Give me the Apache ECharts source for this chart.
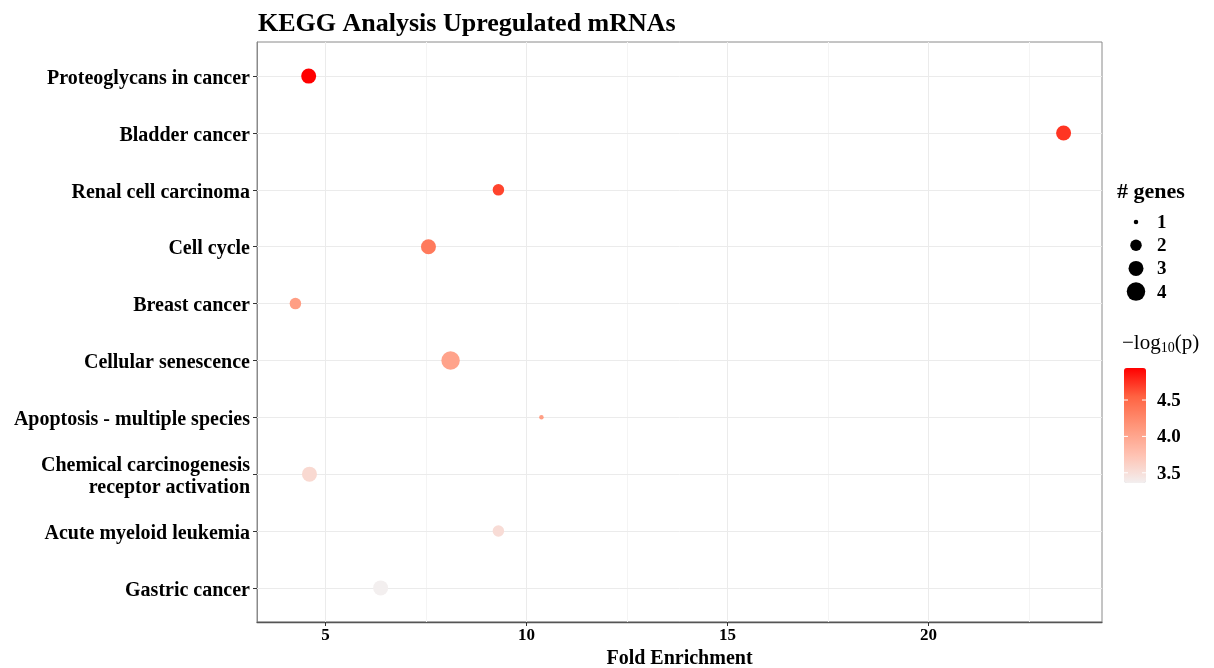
<!DOCTYPE html>
<html>
<head>
<meta charset="utf-8">
<script src="https://cdn.jsdelivr.net/npm/echarts@6/dist/echarts.min.js"></script>
<style>
  html, body { margin: 0; padding: 0; background: #fff; }
  #chart { width: 1214px; height: 668px; }
</style>
</head>
<body>
<div id="chart"></div>
<script>
// KEGG pathways, listed top to bottom
const pathways = [
  'Proteoglycans in cancer',
  'Bladder cancer',
  'Renal cell carcinoma',
  'Cell cycle',
  'Breast cancer',
  'Cellular senescence',
  'Apoptosis - multiple species',
  'Chemical carcinogenesis\nreceptor activation',
  'Acute myeloid leukemia',
  'Gastric cancer'
];
const foldEnrichment = [4.58, 23.36, 9.30, 7.56, 4.25, 8.11, 10.37, 4.60, 9.30, 6.37];
const negLog10P      = [4.94, 4.73, 4.67, 4.36, 4.07, 4.02, 4.07, 3.55, 3.52, 3.36];
const geneCounts     = [3, 3, 2, 3, 2, 4, 1, 3, 2, 3];

const xMajorBreaks = [5, 10, 15, 20];
const xMinorBreaks = [7.5, 12.5, 17.5, 22.5];
const sizeBreaks = [1, 2, 3, 4];
const colorBreaks = [3.5, 4.0, 4.5];

const FONT = '"Liberation Serif", "Times New Roman", serif';
const n = pathways.length;

// point diameter for a gene count
function dotSize(k) {
  const d = { 1: 4.5, 2: 11.5, 3: 15, 4: 18.5 };
  return d[k];
}

// padded data ranges
const xMinData = Math.min(...foldEnrichment), xMaxData = Math.max(...foldEnrichment);
const xPad = (xMaxData - xMinData) * 0.05;
const xMin = xMinData - xPad, xMax = xMaxData + xPad;
const pMin = Math.min(...negLog10P), pMax = Math.max(...negLog10P);
const yIndex = pathways.map((_, i) => n - 1 - i);

const points = pathways.map((name, i) => [foldEnrichment[i], yIndex[i], negLog10P[i], geneCounts[i], name]);

const gridLine = { color: '#ebebeb', width: 1, type: 'solid' };
const minorLine = { color: '#f4f4f4', width: 1, type: 'solid' };

const markData = []
  .concat(xMinorBreaks.map(v => ({ xAxis: v, lineStyle: minorLine })))
  .concat(xMajorBreaks.map(v => ({ xAxis: v, lineStyle: gridLine })))
  .concat(yIndex.map(v => ({ yAxis: v, lineStyle: gridLine })));

const chart = echarts.init(document.getElementById('chart'));

// colour bar geometry
const barTop = 368, barH = 115, barLeft = 1124, barW = 22;
const barY = v => barTop + (pMax - v) / (pMax - pMin) * barH;

const graphics = [
  { type: 'text', left: 1117, top: 181,
    style: { text: '# genes', font: 'bold 22px ' + FONT, fill: '#000' } },
  { type: 'text', left: 1122, top: 333,
    style: {
      text: '{m|\u2212log}{s|10}{m|(p)}',
      rich: {
        m: { font: '21px ' + FONT, fill: '#000' },
        s: { font: '14px ' + FONT, fill: '#000', padding: [10, 0, 0, 0] }
      }
    } }
];
sizeBreaks.forEach((k, i) => {
  const cy = 222 + i * 23.2;
  graphics.push({ type: 'circle', shape: { cx: 1136, cy: cy, r: dotSize(k) / 2 }, style: { fill: '#000' }, z: 10 });
  graphics.push({ type: 'text', x: 1157, y: cy + 1, style: { text: String(k), font: 'bold 19px ' + FONT, fill: '#000', verticalAlign: 'middle' }, z: 10 });
});
colorBreaks.forEach(v => {
  const y = barY(v);
  graphics.push({ type: 'line', shape: { x1: barLeft, y1: y, x2: barLeft + 4, y2: y }, style: { stroke: '#fff', lineWidth: 1 }, z: 20 });
  graphics.push({ type: 'line', shape: { x1: barLeft + barW - 4, y1: y, x2: barLeft + barW, y2: y }, style: { stroke: '#fff', lineWidth: 1 }, z: 20 });
  graphics.push({ type: 'text', x: 1157, y: y + 1, style: { text: v.toFixed(1), font: 'bold 19px ' + FONT, fill: '#000', verticalAlign: 'middle' }, z: 10 });
});

chart.setOption({
  backgroundColor: '#fff',
  animation: false,
  title: {
    text: 'KEGG Analysis Upregulated mRNAs',
    left: 253, top: 6,
    textStyle: { fontFamily: FONT, fontWeight: 'bold', fontSize: 26, color: '#000' }
  },
  grid: {
    left: 257, right: 112, top: 42, bottom: 46,
    containLabel: false, outerBoundsMode: 'none',
    show: true, borderColor: '#8a8a8a', borderWidth: 1, backgroundColor: '#fff'
  },
  xAxis: {
    type: 'value', min: xMin, max: xMax,
    name: 'Fold Enrichment', nameLocation: 'middle', nameGap: 23,
    nameTextStyle: { fontFamily: FONT, fontWeight: 'bold', fontSize: 20, color: '#000' },
    axisLine: { show: true, onZero: false, lineStyle: { color: '#555', width: 1.3 } },
    axisTick: { show: true, length: 4, lineStyle: { color: '#333' }, customValues: xMajorBreaks },
    axisLabel: { customValues: xMajorBreaks, margin: 5, fontFamily: FONT, fontWeight: 'bold', fontSize: 17, color: '#000' },
    splitLine: { show: false }
  },
  yAxis: {
    type: 'value', min: -0.6, max: n - 0.4,
    axisLine: { show: true, onZero: false, lineStyle: { color: '#8a8a8a', width: 1 } },
    axisTick: { show: true, length: 4, lineStyle: { color: '#333' }, customValues: yIndex },
    axisLabel: {
      customValues: yIndex, margin: 7,
      fontFamily: FONT, fontWeight: 'bold', fontSize: 20, color: '#000', align: 'right',
      formatter: v => '{t|' + pathways[n - 1 - Math.round(v)].split('\n').join('}\n{t|') + '}',
      rich: { t: { fontFamily: FONT, fontWeight: 'bold', fontSize: 20, color: '#000', lineHeight: 22, padding: [5, 0, 0, 0] } }
    },
    splitLine: { show: false }
  },
  visualMap: {
    type: 'continuous', show: true, calculable: false,
    dimension: 2, seriesIndex: 0,
    min: pMin, max: pMax,
    left: barLeft, top: barTop, itemWidth: barW, itemHeight: barH, padding: 0,
    text: null, hoverLink: false,
    inRange: { color: ['#f3efef', '#ffc1b1', '#ff9579', '#ff6342', '#ff0000'] }
  },
  series: [{
    type: 'scatter',
    data: points,
    symbolSize: v => dotSize(v[3]),
    itemStyle: { opacity: 1 },
    z: 5,
    markLine: {
      silent: true, symbol: 'none', label: { show: false },
      animation: false,
      data: markData,
      z: 1
    }
  }],
  graphic: graphics
});
</script>
</body>
</html>
